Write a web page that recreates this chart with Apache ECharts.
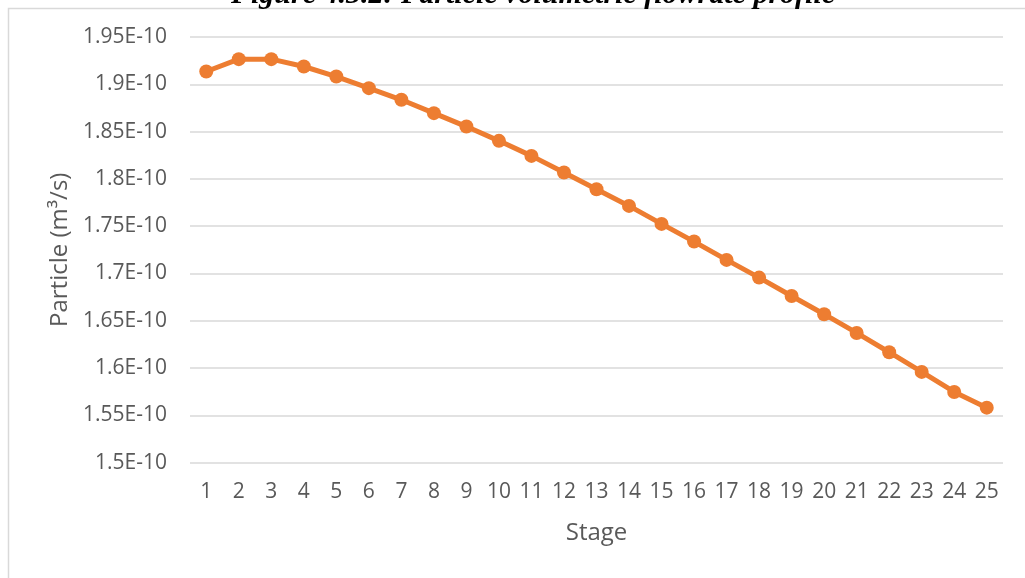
<!DOCTYPE html>
<html>
<head>
<meta charset="utf-8">
<script src="https://cdn.jsdelivr.net/npm/echarts@6/dist/echarts.min.js"></script>
<style>
html,body{margin:0;padding:0;background:#fff;}
#chart{width:1025px;height:578px;}
</style>
</head>
<body>
<div id="chart"></div>
<script>
const titleText = 'Figure 4.3.2: Particle volumetric flowrate profile';
const stages = ['1','2','3','4','5','6','7','8','9','10','11','12','13','14','15','16','17','18','19','20','21','22','23','24','25'];
const particleFlow = [
  1.9135e-10, 1.9266e-10, 1.9266e-10, 1.9188e-10, 1.9082e-10,
  1.8959e-10, 1.8836e-10, 1.8695e-10, 1.8553e-10, 1.8402e-10,
  1.8243e-10, 1.8067e-10, 1.7891e-10, 1.7714e-10, 1.7524e-10,
  1.7337e-10, 1.7143e-10, 1.6956e-10, 1.6762e-10, 1.6569e-10,
  1.6371e-10, 1.6167e-10, 1.5959e-10, 1.5747e-10, 1.5581e-10
];
const yMin = 1.5e-10, yMax = 1.95e-10, yStep = 0.05e-10;
const xAxisName = 'Stage';
const yAxisName = 'Particle (m³/s)';

function fmtE10(v){
  const m = parseFloat((v * 1e10).toFixed(2));
  return m + 'E-10';
}

const chart = echarts.init(document.getElementById('chart'), null, {renderer:'canvas'});
const textColor = '#595959';
const font = '"Open Sans", "Noto Sans", sans-serif';
chart.setOption({
  animation: false,
  backgroundColor: '#ffffff',
  graphic: [
    {type:'rect', shape:{x:8.5, y:8.5, width:1200, height:800}, style:{fill:'none', stroke:'#d9d9d9', lineWidth:1.5}, silent:true},
    {type:'text', x:533, y:10, style:{text:titleText, font:'italic bold 30px "Liberation Serif", "DejaVu Serif", serif', fill:'#000', align:'center', verticalAlign:'bottom'}, silent:true}
  ],
  grid: {left:190, right:22, top:37, bottom:578-462.6, containLabel:false},
  xAxis: {
    type:'category', data: stages, boundaryGap:true,
    axisLine:{show:false}, axisTick:{show:false},
    axisLabel:{color:textColor, fontSize:21, fontFamily:font, margin:19, interval:0},
    name: xAxisName, nameLocation:'middle', nameGap:59,
    nameTextStyle:{color:textColor, fontSize:24, fontFamily:font}
  },
  yAxis: {
    type:'value', min:yMin, max:yMax, interval:yStep,
    axisLine:{show:false}, axisTick:{show:false},
    splitLine:{lineStyle:{color:'#d9d9d9', width:1.5}},
    axisLabel:{color:textColor, fontSize:21, fontFamily:font, margin:23, formatter: fmtE10},
    name: yAxisName, nameLocation:'middle', nameGap:118, nameRotate:90,
    nameTextStyle:{color:textColor, fontSize:24, fontFamily:font}
  },
  series: [{
    type:'line', data: particleFlow,
    symbol:'circle', symbolSize:14,
    lineStyle:{color:'#ED7D31', width:5},
    itemStyle:{color:'#ED7D31'}
  }]
});
</script>
</body>
</html>
